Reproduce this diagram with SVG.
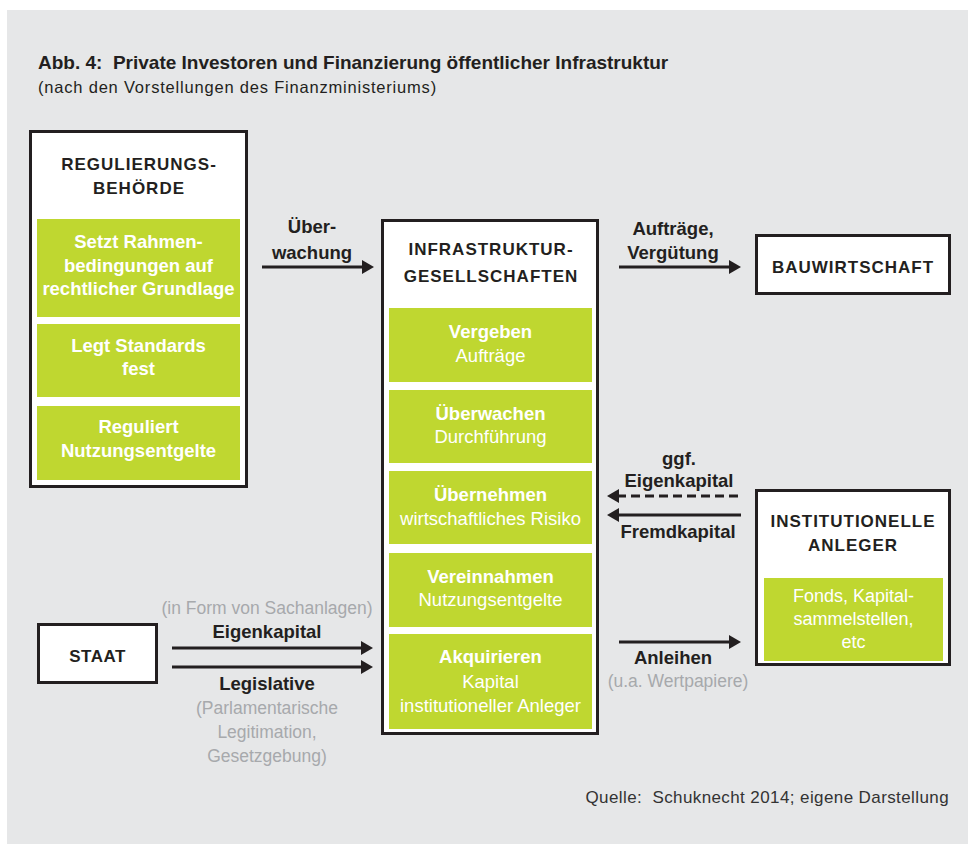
<svg xmlns="http://www.w3.org/2000/svg" width="968" height="844" viewBox="0 0 968 844">
<style>
.bg{fill:#e6e7e8}
.box{fill:#ffffff;stroke:#231f20;stroke-width:3}
.green{fill:#bfd730}
text{font-family:"Liberation Sans",Arial,sans-serif}
.h{font-size:17px;font-weight:bold;fill:#231f20;text-anchor:middle;letter-spacing:1px}
.gb{font-size:18.5px;font-weight:bold;fill:#ffffff;text-anchor:middle}
.gr{font-size:18.5px;fill:#ffffff;text-anchor:middle}
.lbl{font-size:18.5px;font-weight:bold;fill:#231f20;text-anchor:middle}
.gray{font-size:17.5px;fill:#a7a9ac;text-anchor:middle}
.conn line{stroke:#231f20;stroke-width:3}
</style>
<defs>
<marker id="ah" markerUnits="userSpaceOnUse" viewBox="0 0 12 14" refX="4" refY="7" markerWidth="12" markerHeight="14" orient="auto">
<path d="M0,0 L12,7 L0,14 z" fill="#231f20"/>
</marker>
</defs>
<rect class="bg" x="7" y="10" width="961" height="834"/>
<g id="title">
<text x="38" y="69" style="font-size:19px;font-weight:bold;fill:#231f20">Abb. 4:&#160; Private Investoren und Finanzierung öffentlicher Infrastruktur</text>
<text x="38" y="93" style="font-size:16.5px;fill:#231f20;letter-spacing:0.8px">(nach den Vorstellungen des Finanzministeriums)</text>
</g>
<g id="regulierungsbehoerde">
<rect class="box" x="30.5" y="131.5" width="216" height="355"/>
<text class="h" x="139" y="170">REGULIERUNGS-</text>
<text class="h" x="139" y="194">BEHÖRDE</text>
<rect class="green" x="37" y="219" width="203" height="98"/>
<text class="gb" x="138.5" y="248">Setzt Rahmen-</text>
<text class="gb" x="138.5" y="272">bedingungen auf</text>
<text class="gb" x="138.5" y="295">rechtlicher Grundlage</text>
<rect class="green" x="37" y="324" width="203" height="73"/>
<text class="gb" x="138.5" y="352">Legt Standards</text>
<text class="gb" x="138.5" y="375">fest</text>
<rect class="green" x="37" y="406" width="203" height="74"/>
<text class="gb" x="138.5" y="433">Reguliert</text>
<text class="gb" x="138.5" y="457">Nutzungsentgelte</text>
</g>
<g id="infrastrukturgesellschaften">
<rect class="box" x="382.5" y="220.5" width="215" height="513"/>
<text class="h" x="491" y="255">INFRASTRUKTUR-</text>
<text class="h" x="491" y="282">GESELLSCHAFTEN</text>
<rect class="green" x="389" y="308" width="203" height="74"/>
<text class="gb" x="490.5" y="338">Vergeben</text>
<text class="gr" x="490.5" y="362">Aufträge</text>
<rect class="green" x="389" y="390" width="203" height="73"/>
<text class="gb" x="490.5" y="420">Überwachen</text>
<text class="gr" x="490.5" y="443">Durchführung</text>
<rect class="green" x="389" y="471" width="203" height="73"/>
<text class="gb" x="490.5" y="501">Übernehmen</text>
<text class="gr" x="490.5" y="525">wirtschaftliches Risiko</text>
<rect class="green" x="389" y="553" width="203" height="74"/>
<text class="gb" x="490.5" y="583">Vereinnahmen</text>
<text class="gr" x="490.5" y="606">Nutzungsentgelte</text>
<rect class="green" x="389" y="634" width="203" height="95"/>
<text class="gb" x="490.5" y="663">Akquirieren</text>
<text class="gr" x="490.5" y="688">Kapital</text>
<text class="gr" x="490.5" y="712">institutioneller Anleger</text>
</g>
<g id="bauwirtschaft">
<rect class="box" x="756.5" y="235.5" width="193" height="58"/>
<text class="h" x="853" y="273">BAUWIRTSCHAFT</text>
</g>
<g id="institutionelle-anleger">
<rect class="box" x="756.5" y="490.5" width="193" height="174"/>
<text class="h" x="853" y="527">INSTITUTIONELLE</text>
<text class="h" x="853" y="551">ANLEGER</text>
<rect class="green" x="764" y="578" width="179" height="83"/>
<text class="gr" x="853.5" y="602" style="font-size:18px">Fonds, Kapital-</text>
<text class="gr" x="853.5" y="625" style="font-size:18px">sammelstellen,</text>
<text class="gr" x="853.5" y="648" style="font-size:18px">etc</text>
</g>
<g id="staat">
<rect class="box" x="38.5" y="624.5" width="118" height="58"/>
<text class="h" x="97.5" y="662" style="letter-spacing:0.5px">STAAT</text>
</g>
<g id="connectors" class="conn">
<line x1="262" y1="267" x2="366" y2="267" marker-end="url(#ah)"/>
<line x1="619" y1="267" x2="733" y2="267" marker-end="url(#ah)"/>
<line x1="738" y1="496" x2="615" y2="496" stroke-dasharray="9 5" marker-end="url(#ah)"/>
<line x1="741" y1="515" x2="615" y2="515" marker-end="url(#ah)"/>
<line x1="619" y1="642" x2="733" y2="642" marker-end="url(#ah)"/>
<line x1="172" y1="648" x2="365" y2="648" marker-end="url(#ah)"/>
<line x1="172" y1="667" x2="365" y2="667" marker-end="url(#ah)"/>
</g>
<g id="labels">
<text class="lbl" x="312" y="233">Über-</text>
<text class="lbl" x="312" y="259">wachung</text>
<text class="lbl" x="673" y="235">Aufträge,</text>
<text class="lbl" x="673" y="259">Vergütung</text>
<text class="lbl" x="679" y="465">ggf.</text>
<text class="lbl" x="679" y="487">Eigenkapital</text>
<text class="lbl" x="678" y="538">Fremdkapital</text>
<text class="lbl" x="673" y="664">Anleihen</text>
<text class="gray" x="678" y="687">(u.a. Wertpapiere)</text>
<text class="gray" x="267" y="614">(in Form von Sachanlagen)</text>
<text class="lbl" x="267" y="638">Eigenkapital</text>
<text class="lbl" x="267" y="690">Legislative</text>
<text class="gray" x="267" y="714">(Parlamentarische</text>
<text class="gray" x="267" y="738">Legitimation,</text>
<text class="gray" x="267" y="762">Gesetzgebung)</text>
</g>
<text x="949" y="803" style="font-size:17px;fill:#333333;text-anchor:end;letter-spacing:0.4px">Quelle:&#160; Schuknecht 2014; eigene Darstellung</text>
</svg>
